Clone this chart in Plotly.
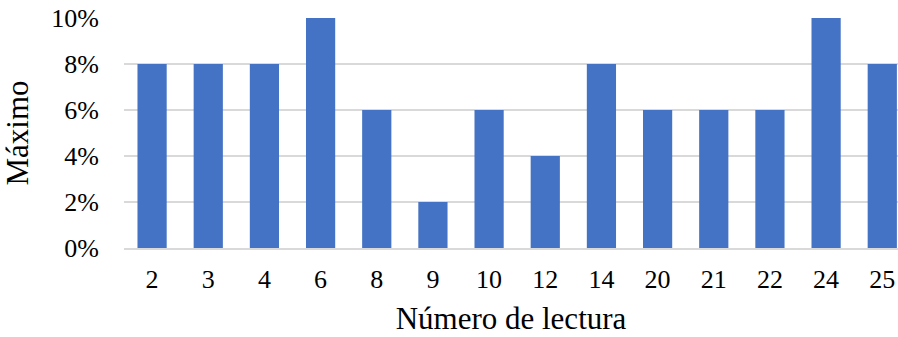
import plotly.graph_objects as go

categories = ["2", "3", "4", "6", "8", "9", "10", "12", "14", "20", "21", "22", "24", "25"]
maximo = [0.08, 0.08, 0.08, 0.10, 0.06, 0.02, 0.06, 0.04, 0.08, 0.06, 0.06, 0.06, 0.10, 0.08]
y_ticks = [0, 0.02, 0.04, 0.06, 0.08, 0.10]

font_family = "Liberation Serif, Times New Roman, serif"

fig = go.Figure(go.Bar(
    x=categories, y=maximo,
    marker=dict(color="#4472C4", line=dict(width=0)),
))

fig.update_layout(
    width=898, height=337,
    margin=dict(l=124, r=0, t=18, b=89),
    paper_bgcolor="white", plot_bgcolor="white",
    bargap=0.48,
    showlegend=False,
    font=dict(family=font_family, color="black"),
)
fig.update_xaxes(
    type="category",
    range=[-0.5, 13.28],
    showgrid=False,
    showline=True, linecolor="#d9d9d9", linewidth=1.5,
    ticks="", tickfont=dict(size=26, family=font_family),
    ticklabelstandoff=7,
    title=dict(text="Número de lectura", font=dict(size=31, family=font_family), standoff=14),
    automargin=False,
)
fig.update_yaxes(
    range=[0, 0.1],
    tickvals=y_ticks, tickformat=".0%",
    showgrid=True, gridcolor="#d9d9d9", gridwidth=1.5,
    zeroline=False, showline=False,
    ticks="", tickfont=dict(size=26, family=font_family),
    ticklabelstandoff=24,
    title=dict(text="Máximo", font=dict(size=31, family=font_family), standoff=13),
    automargin=False,
)

fig.write_html(
    "out.html",
    config={"displayModeBar": False},
    post_script="document.body.style.margin='0';document.body.style.overflow='hidden';",
)
